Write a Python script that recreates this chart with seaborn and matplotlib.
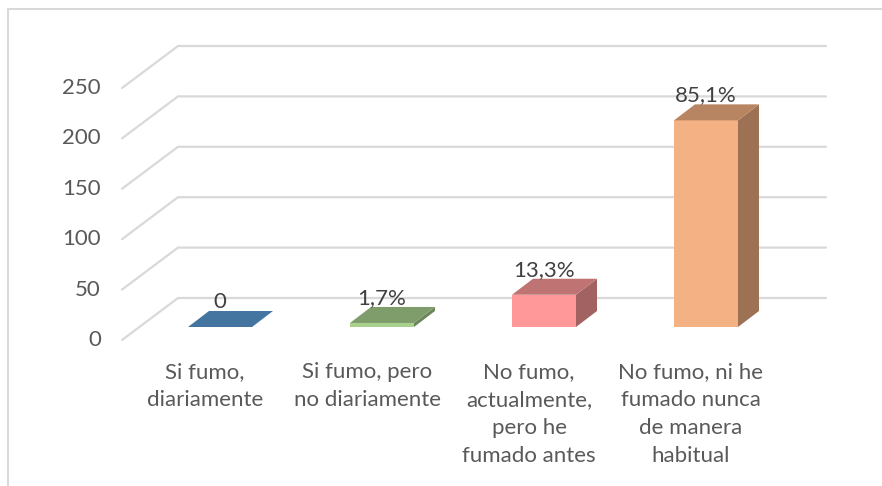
import numpy as np
import pandas as pd
import matplotlib
matplotlib.use("Agg")
import matplotlib.pyplot as plt
from matplotlib.patches import Polygon, Rectangle
from matplotlib.lines import Line2D
import seaborn as sns

# data
categories = ["Si fumo,\ndiariamente", "Si fumo, pero\nno diariamente",
              "No fumo,\nactualmente,\npero he\nfumado antes",
              "No fumo, ni he\nfumado nunca\nde manera\nhabitual"]
counts = [0, 4, 32, 205]
value_labels = ["0", "1,7%", "13,3%", "85,1%"]
yticks = [0, 50, 100, 150, 200, 250]

front_colors = ["#5B9BD5", "#A9D18E", "#FF9999", "#F4B183"]

def shade(hex_color, f):
    r, g, b = matplotlib.colors.to_rgb(hex_color)
    return (r * f, g * f, b * f)

sns.set_style("white")
plt.rcParams["font.family"] = ["Lato", "DejaVu Sans"]
TXT = "#595959"
GRID = "#D9D9D9"
FS = 16

W, H = 882, 486
fig = plt.figure(figsize=(W / 100, H / 100), dpi=100)
ax = fig.add_axes([0, 0, 1, 1])

# pixel <-> data mapping (bar centres every 162 px, ~1.008 px per unit)
x0px, xstep = 220, 162
y0px, ystep = 327, 1.008

def px(xp):
    return (xp - x0px) / xstep

def py(yp):
    return (y0px - yp) / ystep

df = pd.DataFrame({"cat": categories, "n": counts})
bar_w = 64 / xstep
sns.barplot(data=df, x="cat", y="n", hue="cat", palette=front_colors,
            width=bar_w, legend=False, ax=ax, linewidth=0, saturation=1,
            zorder=3)
ax.set_xlim(-x0px / xstep, (W - x0px) / xstep)
ax.set_ylim(-(H - y0px) / ystep, y0px / ystep)

# 3d gridlines: front diagonal then back wall
for v in yticks:
    yf = py(340) + v
    yb = py(298) + v
    ax.add_line(Line2D([px(122), px(178), px(826)], [yf, yb, yb],
                       color=GRID, lw=1.6, zorder=0))
    ax.text(px(101), yf, str(v), ha="right", va="center",
            fontsize=FS, color=TXT)

ddx = 21 / xstep
ddy = 16 / ystep
for i, (n, c) in enumerate(zip(counts, front_colors)):
    l, r = i - bar_w / 2, i + bar_w / 2
    top = Polygon([(l, n), (r, n), (r + ddx, n + ddy), (l + ddx, n + ddy)],
                  closed=True, facecolor=shade(c, 0.75), lw=0, zorder=4)
    side = Polygon([(r, 0), (r + ddx, ddy), (r + ddx, n + ddy), (r, n)],
                   closed=True, facecolor=shade(c, 0.64), lw=0, zorder=2)
    ax.add_patch(side)
    ax.add_patch(top)
    ax.text(i, n + ddy + 9 / ystep, value_labels[i], ha="center", va="center",
            fontsize=FS, color="#404040", zorder=5)
    ax.text(i - 15 / xstep, py(362), categories[i], ha="center", va="top",
            fontsize=FS, color=TXT, linespacing=1.5)

ax.set_xlabel("")
ax.set_ylabel("")
ax.set_xticks([])
ax.set_yticks([])
for s in ax.spines.values():
    s.set_visible(False)

fig.add_artist(Rectangle((8 / W, -0.1), 1.2, (H - 9) / H + 0.1,
                         transform=fig.transFigure, fill=False,
                         edgecolor=GRID, lw=1.5))

fig.savefig("out.png", dpi=100)
